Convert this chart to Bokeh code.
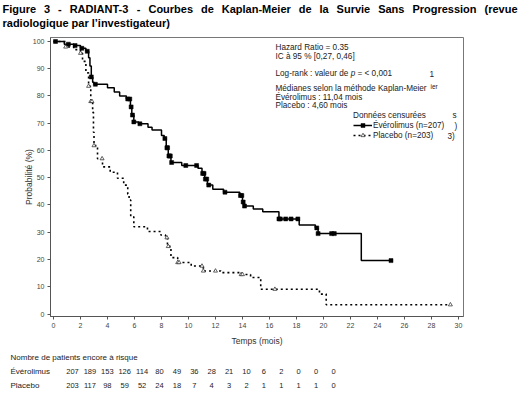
import numpy as np
from bokeh.plotting import figure
from bokeh.models import Range1d, Legend, LegendItem, FixedTicker
from bokeh.layouts import column
from bokeh.core.properties import value
from bokeh.embed import file_html
from bokeh.resources import INLINE

FONT = "Liberation Sans"
W = 525

# ---------------- data ----------------
title_line1 = "Figure 3 - RADIANT-3 - Courbes de Kaplan-Meier de la Survie Sans Progression (revue"
title_line2 = "radiologique par l\u2019investigateur)"

# Everolimus Kaplan-Meier steps (months, % progression-free)
evr_t = [0, 0.8, 1.5, 2.0, 2.4, 2.6, 2.7, 2.8, 2.9, 3.0, 4.0, 4.5, 4.9, 5.4, 5.7, 5.8,
         5.95, 6.3, 7.0, 7.3, 8.0, 8.2, 8.35, 8.5, 8.7, 9.5, 10.7, 11.0, 11.2, 11.4, 11.8,
         12.6, 13.8, 14.0, 14.1, 14.8, 15.5, 16.7, 18.2, 19.4, 19.6, 22.8, 25.0]
evr_s = [100, 99, 98.5, 97.5, 96.4, 94, 91, 87, 85, 84.3, 83, 81.5, 80, 78.9, 76, 73,
         70.5, 69.8, 68.5, 67.5, 65.5, 64.4, 61, 58, 55.6, 54.5, 53.5, 51.6, 49.5, 47.3, 45.8,
         44.7, 43.5, 41.1, 39.6, 38.5, 37.5, 34.9, 32.7, 31.6, 29.5, 19.6, 19.6]
evr_censored = [0.15, 1.1, 1.6, 2.1, 2.5, 2.8, 3.1, 5.5, 5.65, 5.75, 5.85, 5.95, 6.4,
                8.25, 8.4, 8.45, 8.55, 8.6, 8.65, 8.75, 9.8, 10.6, 11.05, 11.15, 11.25,
                11.35, 11.5, 12.7, 13.85, 13.95, 14.05, 14.15, 16.7, 16.8, 17.2, 17.6,
                18.1, 19.5, 19.6, 20.6, 20.8, 25.0]

# Placebo Kaplan-Meier steps
pla_t = [0, 0.9, 1.5, 2.0, 2.15, 2.4, 2.6, 2.76, 2.9, 2.96, 3.0, 3.26, 3.63, 4.2, 4.74,
         5.2, 5.5, 5.6, 5.72, 5.95, 6.96, 7.95, 8.3, 8.44, 8.7, 9.2, 10.2, 11.1, 12.4,
         13.9, 14.6, 15.35, 19.7, 20.2, 29.4]
pla_s = [100, 98, 97, 95.7, 92.7, 88.5, 83.6, 78, 74, 66.7, 61.8, 57, 54, 52, 49.8,
         47.3, 44, 41.8, 35.7, 32, 30.3, 29, 28, 24.8, 20.7, 18.9, 17.6, 15.8, 15.2,
         14.5, 13.4, 9.1, 7.3, 3.4, 3.4]
pla_censored = [0.9, 2.0, 2.6, 2.76, 2.85, 3.0, 3.6, 8.4, 8.5, 9.2, 9.3, 11.0, 11.1,
                12.0, 13.9, 14.0, 16.4, 29.4]

x_ticks = list(range(0, 31, 2))
y_ticks = list(range(0, 101, 10))

risk_title = "Nombre de patients encore \u00e0 risque"
risk_groups = ["\u00c9v\u00e9rolimus", "Placebo"]
evr_risk = [207, 189, 153, 126, 114, 80, 49, 36, 28, 21, 10, 6, 2, 0, 0, 0]
pla_risk = [203, 117, 98, 59, 52, 24, 18, 7, 4, 3, 2, 1, 1, 1, 1, 0]


def surv_at(ts, ss, t):
    i = np.searchsorted(np.asarray(ts), t, side="right") - 1
    return float(np.asarray(ss)[i])


evr_cs = [surv_at(evr_t, evr_s, t) for t in evr_censored]
pla_cs = [surv_at(pla_t, pla_s, t) for t in pla_censored]

# ---------------- page geometry (pixels) ----------------
TITLE_H = 30          # title strip   : page y 0..30
MAIN_TOP, MAIN_BOT = 30, 348   # main figure  : page y 30..348
TABLE_H = 46          # table strip   : page y 348..394
FL, FR, FT, FB = 50, 463, 37, 317      # plot frame (page pixels)
PXM, PXP = 13.5, 2.735                 # px per month, px per percent
X0P, Y0P = 53.0, 314.5                 # pixel of t=0, pixel of 0 %


def X(px):
    return (px - X0P) / PXM


def Y(py):
    return (Y0P - py) / PXP


def strip(height):
    f = figure(width=W, height=height, x_range=Range1d(0, W), y_range=Range1d(height, 0),
               output_backend="svg", toolbar_location=None, min_border=0,
               x_axis_type=None, y_axis_type=None)
    f.frame_align = False
    f.grid.visible = False
    f.outline_line_color = None
    return f


# ---------------- justified title ----------------
AB = {' ': 278, '(': 333, ')': 333, '-': 333, '3': 556, 'A': 722, 'C': 722, 'D': 722,
      'F': 611, 'I': 278, 'K': 722, 'M': 833, 'N': 722, 'P': 667, 'R': 722, 'S': 667,
      'T': 611, 'a': 556, 'b': 611, 'd': 611, 'e': 556, 'g': 611, 'i': 278, 'l': 278,
      'n': 611, 'o': 611, 'p': 611, 'r': 389, 's': 556, 'u': 611, 'v': 556}
TSIZE = 11
T_LEFT, T_RIGHT = 2, 517
words = title_line1.split(" ")
wws = [sum(AB.get(c, 556) for c in w) * TSIZE / 1000 for w in words]
gap = (T_RIGHT - T_LEFT - sum(wws)) / (len(words) - 1)
wx = []
cur = T_LEFT
for ww in wws:
    wx.append(cur)
    cur += ww + gap

tf = strip(TITLE_H)
tf.text(x=wx, y=[8] * len(words), text=words, text_font=value(FONT),
        text_font_size="11px", text_font_style="bold", text_color="black",
        text_baseline="middle", text_align="left")
tf.text(x=[T_LEFT], y=[22], text=[title_line2], text_font=value(FONT),
        text_font_size="11px", text_font_style="bold", text_color="black",
        text_baseline="middle", text_align="left")

# ---------------- main figure ----------------
p = figure(width=W, height=MAIN_BOT - MAIN_TOP,
           x_range=Range1d(X(FL), X(FR)), y_range=Range1d(Y(FB), Y(FT)),
           output_backend="svg", toolbar_location=None,
           min_border_left=FL, min_border_right=W - FR,
           min_border_top=FT - MAIN_TOP, min_border_bottom=MAIN_BOT - FB)
p.frame_align = False
p.grid.visible = False
p.outline_line_color = "#777777"
p.background_fill_color = "white"
p.border_fill_color = "white"

p.xaxis.ticker = FixedTicker(ticks=x_ticks)
p.yaxis.ticker = FixedTicker(ticks=y_ticks)
for ax in (p.xaxis[0], p.yaxis[0]):
    ax.axis_line_color = "#555555"
    ax.major_tick_line_color = "#555555"
    ax.major_tick_out = 3
    ax.major_tick_in = 0
    ax.minor_tick_line_color = None
    ax.major_label_text_font = FONT
    ax.major_label_text_font_size = "7px"
    ax.major_label_text_color = "#444444"
    ax.major_label_standoff = 3
    ax.axis_label_text_font = FONT
    ax.axis_label_text_font_size = "8.5px"
    ax.axis_label_text_font_style = "normal"
    ax.axis_label_text_color = "#333333"
p.xaxis.axis_label = "Temps (mois)"
p.yaxis.axis_label = "Probabilit\u00e9 (%)"
p.xaxis.axis_label_standoff = 5
p.yaxis.axis_label_standoff = -4

r_e_line = p.step(evr_t, evr_s, mode="after", line_color="black", line_width=1.5)
r_e_cens = p.scatter(evr_censored, evr_cs, marker="square", size=4,
                     fill_color="black", line_color="black", line_width=0.5)
r_p_line = p.step(pla_t, pla_s, mode="after", line_color="black", line_width=1.6,
                  line_dash="2 3")
r_p_cens = p.scatter(pla_censored, pla_cs, marker="triangle", size=4,
                     fill_color="white", line_color="#222222", line_width=0.7)

ann_text = ["Hazard Ratio = 0.35", "IC \u00e0 95 % [0,27, 0,46]", "Log-rank : valeur de",
            "= < 0,001", "M\u00e9dianes selon la m\u00e9thode Kaplan-Meier",
            "\u00c9v\u00e9rolimus : 11,04 mois", "Placebo : 4,60 mois",
            "1", "s", ")", "3)"]
ann_px = [275, 275, 275, 357, 275, 275, 275, 429, 452, 454, 447]
ann_py = [47, 56.5, 73.5, 73.5, 88.5, 97, 105.5, 73.5, 115, 126, 136]
p.text(x=[X(v) for v in ann_px], y=[Y(v) for v in ann_py], text=ann_text,
       text_font=value(FONT), text_font_size="8.2px", text_color="#222222",
       text_baseline="middle", text_align="left")
p.text(x=[X(350.3)], y=[Y(73.5)], text=["p"], text_font=value(FONT),
       text_font_size="8.2px", text_font_style="italic", text_color="#222222",
       text_baseline="middle", text_align="left")
p.text(x=[X(430)], y=[Y(86.5)], text=["ier"], text_font=value(FONT),
       text_font_size="6.5px", text_color="#222222",
       text_baseline="middle", text_align="left")

legend = Legend(items=[LegendItem(label=risk_groups[0] + " (n=207)", renderers=[r_e_line, r_e_cens]),
                       LegendItem(label="Placebo (n=203)", renderers=[r_p_line, r_p_cens])],
                title="Donn\u00e9es censur\u00e9es", location=(303, 176))
legend.title_text_font = FONT
legend.title_text_font_size = "8.2px"
legend.title_text_font_style = "normal"
legend.title_text_color = "#222222"
legend.title_standoff = 0
legend.label_text_font = FONT
legend.label_text_font_size = "8.2px"
legend.label_text_color = "#222222"
legend.label_height = 10
legend.glyph_height = 10
legend.glyph_width = 19
legend.label_standoff = 1
legend.spacing = 0
legend.padding = 0
legend.margin = 0
legend.border_line_color = None
legend.background_fill_alpha = 0
p.add_layout(legend)

# ---------------- at-risk table ----------------
COL0, COLSTEP = 72.0, 17.4
rf = strip(TABLE_H)
row_y = [357 - MAIN_BOT, 370.5 - MAIN_BOT, 384.5 - MAIN_BOT]
rf.text(x=[10, 10, 10], y=row_y, text=[risk_title] + risk_groups, text_font=value(FONT),
        text_font_size="8px", text_color="#222222", text_baseline="middle", text_align="left")
col_x = [COL0 + COLSTEP * i for i in range(len(evr_risk))]
rf.text(x=col_x, y=[row_y[1]] * len(col_x), text=[str(v) for v in evr_risk],
        text_font=value(FONT), text_font_size="7.5px", text_color="#222222",
        text_baseline="middle", text_align="center")
rf.text(x=col_x, y=[row_y[2]] * len(col_x), text=[str(v) for v in pla_risk],
        text_font=value(FONT), text_font_size="7.5px", text_color="#222222",
        text_baseline="middle", text_align="center")

layout = column(tf, p, rf, spacing=0)
open("out.html", "w").write(file_html(layout, INLINE))
